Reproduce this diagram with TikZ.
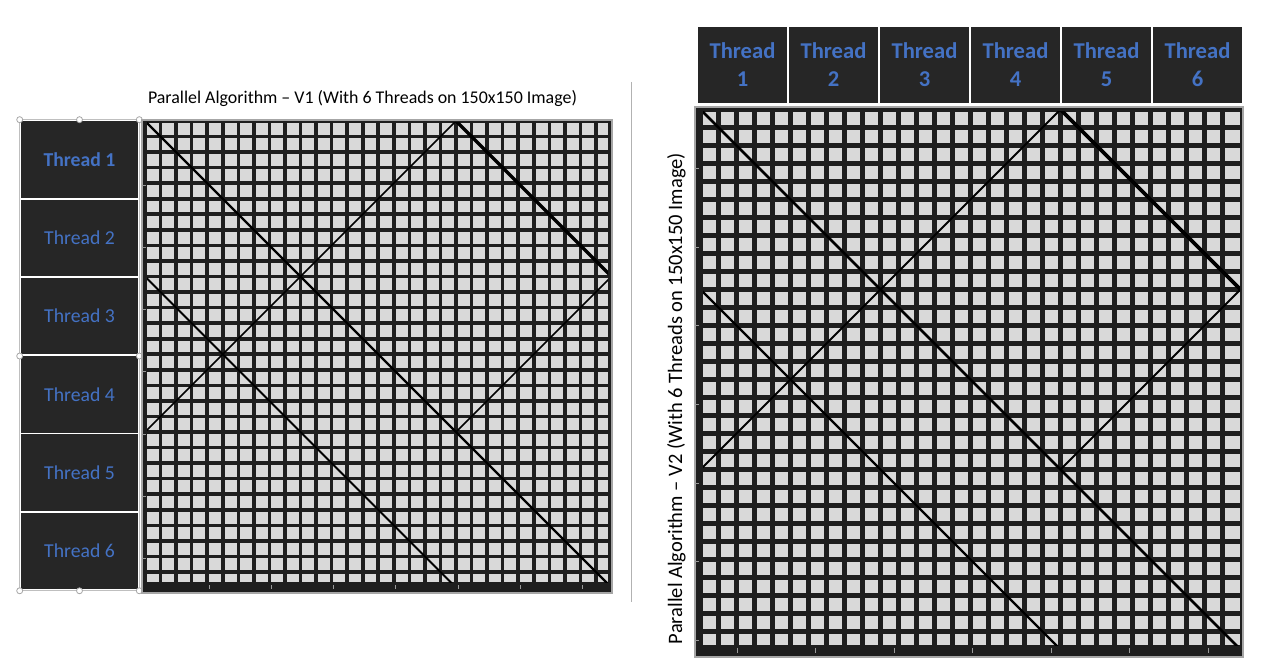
\documentclass[tikz,border=0pt]{standalone}
\usepackage{fontspec}
\setmainfont{Carlito}
\definecolor{boxfill}{HTML}{262626}
\definecolor{threadblue}{HTML}{4472C4}
\definecolor{cellgray}{HTML}{D9D9D9}
\definecolor{framedark}{HTML}{1E1E1E}
\tikzset{
  threadbox/.style={draw=white,line width=1.6pt,fill=boxfill,text=threadblue,minimum width=118pt,minimum height=78.25pt,inner sep=0pt,font=\fontsize{19.7}{23}\selectfont},
  threadbold/.style={font=\fontsize{19.7}{23}\selectfont\bfseries},
  headbox/.style={draw=white,line width=2.6pt,fill=boxfill,text=threadblue,minimum width=91pt,minimum height=78pt,inner sep=0pt,align=center,font=\fontsize{22.6}{28}\selectfont\bfseries},
  handle/.style={circle,draw=gray!70,fill=white,line width=0.8pt,minimum size=6pt,inner sep=0pt},
  gridframe/.style={fill=framedark,draw=gray!70,line width=1.2pt},
  gridline/.style={draw=framedark,line width=#1},
  diag/.style={draw=black,line width=#1},
  tick/.style={draw=gray!80,line width=1pt}
}
\begin{document}
\begin{tikzpicture}[x=1pt,y=-1pt]
  \useasboundingbox (0,0) rectangle (1270,671);
  % V1
  \node[anchor=base,font=\fontsize{17.9}{21}\selectfont] (title1) at (362.5,103.5) {Parallel Algorithm – V1 (With 6 Threads on 150x150 Image)};
  \node[threadbox,threadbold] (t1) at (79.5,159.6) {Thread 1};
  \foreach \i in {2,...,6} \node[threadbox] (t\i) at (79.5,{159.6+(\i-1)*78.25}) {Thread \i};
  \draw[gray!50,line width=1pt] (t1.north west) rectangle (t6.south east);
  \foreach \p in {t1.north west,t1.north,t1.north east,t3.south west,t3.south east,t6.south west,t6.south,t6.south east}
    \node[handle] at (\p) {};
  \draw[gridframe] (142,120) rectangle (612,593);
  \fill[cellgray] (147,123) rectangle (608,582);
  \begin{scope}
    \clip (147,123) rectangle (608,582);
    \begin{scope}[shift={(145,121)},x=15.55pt,y=-15.55pt]
      \foreach \k in {1,...,29} {\draw[gridline=3.6pt] (\k,0) -- (\k,30); \draw[gridline=3.6pt] (0,\k) -- (30,\k);}
      \coordinate (a-o) at (0,0);   \coordinate (a-top) at (20,0);
      \coordinate (a-right) at (30,10); \coordinate (a-left1) at (0,10);
      \coordinate (a-left2) at (0,20);  \coordinate (a-mid) at (20,20);
      \coordinate (a-bot) at (20,30);   \coordinate (a-end) at (30,30);
      \draw[diag=2.2pt] (a-o) -- (a-end);
      \draw[diag=3.2pt] (a-top) -- (a-right);
      \draw[diag=1.6pt] (a-top) -- (a-left2);
      \draw[diag=1.6pt] (a-right) -- (a-mid);
      \draw[diag=2pt] (a-left1) -- (a-bot);
    \end{scope}
  \end{scope}
  \foreach \k in {1,...,7} {\draw[tick] (142,{123+\k*62.2}) -- ++(3.5,0); \draw[tick] ({147+\k*62.2},585) -- ++(0,4);}
  \draw[gray!60,line width=1pt] (631,82) -- (631,602);
  % V2
  \node[anchor=base,rotate=90,font=\fontsize{20.5}{24}\selectfont] (title2) at (682,398.5) {Parallel Algorithm – V2 (With 6 Threads on 150x150 Image)};
  \foreach \i in {1,...,6} \node[headbox] (h\i) at ({742.5+(\i-1)*91},65) {Thread\\\i};
  \draw[gridframe] (695,107) rectangle (1243,657);
  \fill[cellgray] (703,112) rectangle (1240,645);
  \begin{scope}
    \clip (703,112) rectangle (1240,645);
    \begin{scope}[shift={(700.5,109.5)},x=18pt,y=-18pt]
      \foreach \k in {1,...,29} {\draw[gridline=4.5pt] (\k,0) -- (\k,30); \draw[gridline=4.5pt] (0,\k) -- (30,\k);}
      \coordinate (b-o) at (0,0);   \coordinate (b-top) at (20,0);
      \coordinate (b-right) at (30,10); \coordinate (b-left1) at (0,10);
      \coordinate (b-left2) at (0,20);  \coordinate (b-mid) at (20,20);
      \coordinate (b-bot) at (20,30);   \coordinate (b-end) at (30,30);
      \draw[diag=2.6pt] (b-o) -- (b-end);
      \draw[diag=3.8pt] (b-top) -- (b-right);
      \draw[diag=1.8pt] (b-top) -- (b-left2);
      \draw[diag=1.8pt] (b-right) -- (b-mid);
      \draw[diag=2.4pt] (b-left1) -- (b-bot);
    \end{scope}
  \end{scope}
  \foreach \k in {0,...,6} {\draw[tick] (695,{169+\k*78.5}) -- ++(4,0); \draw[tick] ({1208-\k*78.5},648) -- ++(0,5);}
\end{tikzpicture}
\end{document}
